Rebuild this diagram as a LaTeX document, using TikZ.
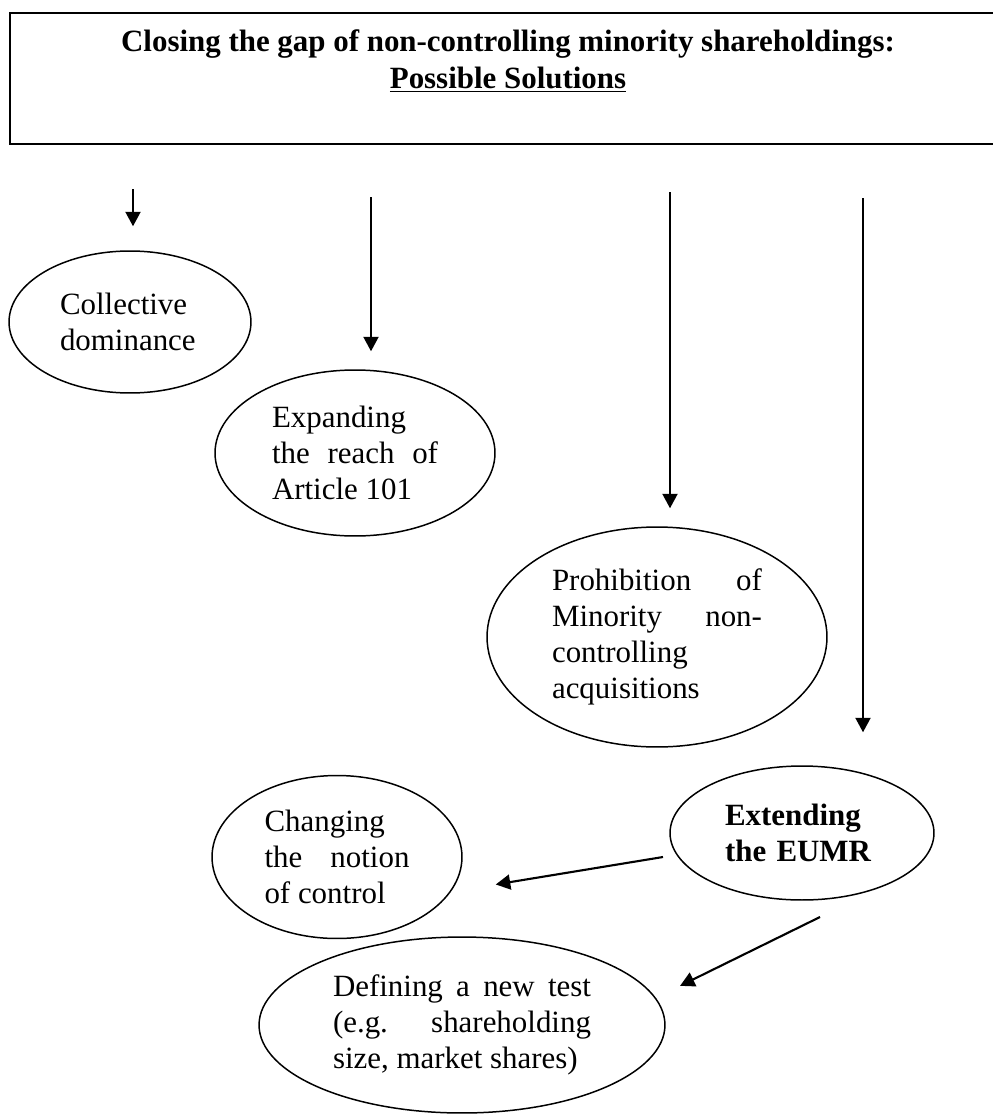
\documentclass[tikz,border=0pt]{standalone}
\usepackage{fontspec}
\setmainfont{Liberation Serif}
\usepackage{tikz}
\usetikzlibrary{shapes.geometric}
\usetikzlibrary{arrows.meta}
\tikzset{
  idea/.style={draw, ellipse, line width=0.85pt, inner sep=0pt, font=\fontsize{17.6}{20.6}\selectfont},
  arr/.style={-{Triangle[length=0.29cm,width=0.3cm]}, line width=1.2pt}
}

\begin{document}
\begin{tikzpicture}[x=0.02cm, y=-0.02cm]
\useasboundingbox (0,0) rectangle (992,1115);
\node[draw, line width=1.1pt, minimum width=20cm, minimum height=2.62cm] (title) at (510,78.5) {};
\node[font=\fontsize{17.6}{21}\selectfont\bfseries, align=center, anchor=north, inner sep=0pt] (head) at (508,29) {Closing the gap of non-controlling minority shareholdings:\\ \underline{Possible Solutions}};

\node[idea, minimum width=4.84cm, minimum height=2.84cm, text width=2.8cm, align=left] (coll) at (130,322) {Collective\\dominance};
\node[idea, minimum width=5.6cm, minimum height=3.32cm, text width=3.32cm, align=justify] (exp) at (355,453) {Expanding\linebreak the reach of\linebreak Article 101};
\node[idea, minimum width=6.8cm, minimum height=4.4cm, text width=4.2cm, align=justify] (prh) at (657,637) {Prohibition of\linebreak Minority non-\linebreak controlling\linebreak acquisitions};
\node[idea, minimum width=5.28cm, minimum height=2.68cm, text width=3.08cm, align=left, font=\fontsize{17.6}{20.6}\selectfont\bfseries] (ext) at (802,833) {Extending\\the EUMR};
\node[idea, minimum width=5cm, minimum height=3.26cm, text width=2.9cm, align=justify] (chg) at (337,857) {Changing\linebreak the notion\linebreak of control};
\node[idea, minimum width=8.12cm, minimum height=3.52cm, text width=5.16cm, align=justify] (dfn) at (462,1025) {Defining a new test\linebreak (e.g. shareholding\linebreak size, market shares)};

\coordinate (t1) at (133,189);
\coordinate (t2) at (371,197);
\coordinate (t3) at (670,192);
\coordinate (t4) at (863,198);
\coordinate (e1) at (663,857);
\coordinate (e2) at (820,917);

\draw[arr, shorten >=0.48cm] (t1) -- (t1 |- coll.north);
\draw[arr, shorten >=0.36cm] (t2) -- (t2 |- exp.north);
\draw[arr, shorten >=0.36cm] (t3) -- (t3 |- prh.north);
\draw[arr, shorten >=0.66cm] (t4) -- (t4 |- ext.north);
\draw[arr, shorten >=0.91cm] (e1) -- (chg.-17);
\draw[arr, shorten >=0.54cm] (e2) -- (dfn.8);
\end{tikzpicture}
\end{document}
